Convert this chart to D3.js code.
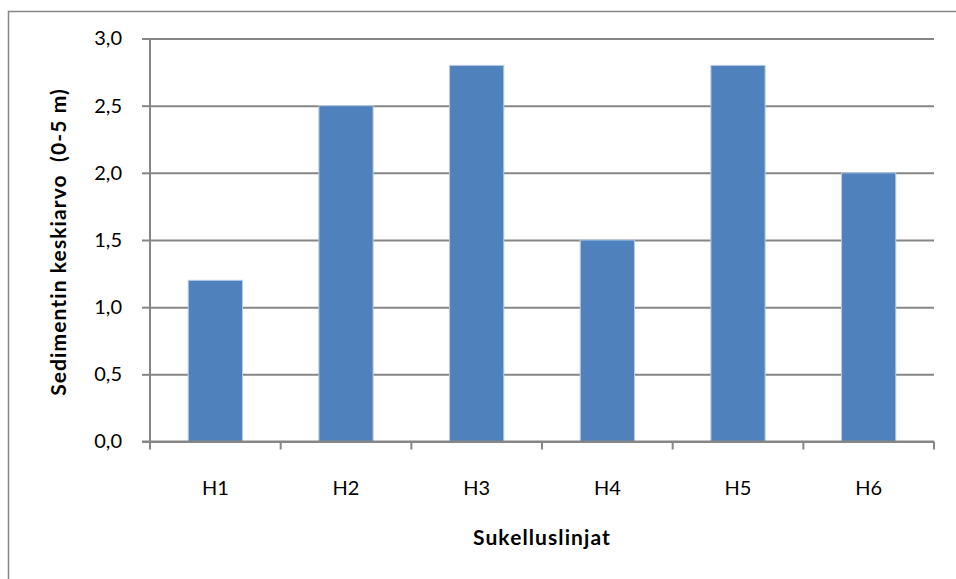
<!DOCTYPE html>
<html>
<head>
<meta charset="utf-8">
<script src="https://cdn.jsdelivr.net/npm/d3@7"></script>
<style>
  body { margin: 0; background: #fff; }
  svg text { font-family: Lato, "Open Sans", sans-serif; fill: #000; }
</style>
</head>
<body>
<div id="chart"></div>
<script>
var categories = ["H1", "H2", "H3", "H4", "H5", "H6"];
var values = [1.2, 2.5, 2.8, 1.5, 2.8, 2.0];
var yTicks = [0, 0.5, 1.0, 1.5, 2.0, 2.5, 3.0];
var xTitle = "Sukelluslinjat";
var yTitle = "Sedimentin keskiarvo  (0-5 m)";

var W = 956, H = 579;
var margin = {top: 38.5, right: 22, bottom: 137.5, left: 150};
var width = W - margin.left - margin.right;
var height = H - margin.top - margin.bottom;
var gridColor = "#868686";

var svg = d3.select("#chart").append("svg")
    .attr("width", W)
    .attr("height", H);

// outer chart frame, runs off the right and bottom edges
svg.append("rect")
    .attr("x", 8.5).attr("y", 11.5)
    .attr("width", W + 10).attr("height", H + 10)
    .attr("fill", "none")
    .attr("stroke", gridColor)
    .attr("stroke-width", 1.5);

var g = svg.append("g").attr("transform", "translate(" + margin.left + "," + margin.top + ")");

var x = d3.scaleBand().domain(categories).range([0, width]).paddingInner(0.585).paddingOuter(0.2925);
var xOuter = d3.scaleBand().domain(categories).range([0, width]);
var y = d3.scaleLinear().domain([0, 3]).range([height, 0]);

// gridlines + y axis
var yAxis = g.append("g")
    .call(d3.axisLeft(y).tickValues(yTicks).tickSizeInner(-width).tickSizeOuter(0)
        .tickFormat(function(d) { return d3.format(".1f")(d).replace(".", ","); }));
yAxis.select(".domain").remove();
yAxis.selectAll(".tick line").attr("stroke", gridColor).attr("stroke-width", 2);
yAxis.selectAll(".tick").append("line")
    .attr("x1", -8).attr("x2", 0)
    .attr("stroke", gridColor).attr("stroke-width", 2);
yAxis.selectAll(".tick text")
    .attr("x", -28)
    .attr("font-size", "20px");

g.append("line")
    .attr("x1", 0).attr("x2", 0).attr("y1", 0).attr("y2", height)
    .attr("stroke", gridColor).attr("stroke-width", 2);

// bars
g.selectAll("rect.bar")
    .data(values)
    .enter().append("rect")
    .attr("class", "bar")
    .attr("x", function(d, i) { return x(categories[i]); })
    .attr("y", function(d) { return y(d); })
    .attr("width", x.bandwidth())
    .attr("height", function(d) { return height - y(d); })
    .attr("fill", "#4F81BD")
    .attr("stroke", "#B9CDE5")
    .attr("stroke-width", 1);

// x axis
var xAxis = g.append("g")
    .attr("transform", "translate(0," + height + ")");
xAxis.append("line")
    .attr("x1", -8).attr("x2", width)
    .attr("stroke", gridColor).attr("stroke-width", 2);
var xTickPos = [0].concat(categories.map(function(c) { return xOuter(c) + xOuter.bandwidth(); }));
xAxis.selectAll("line.xt")
    .data(xTickPos)
    .enter().append("line")
    .attr("class", "xt")
    .attr("x1", function(d) { return d; }).attr("x2", function(d) { return d; })
    .attr("y1", 0).attr("y2", 8)
    .attr("stroke", gridColor).attr("stroke-width", 2);
xAxis.selectAll("text.xl")
    .data(categories)
    .enter().append("text")
    .attr("class", "xl")
    .attr("x", function(c) { return xOuter(c) + xOuter.bandwidth() / 2; })
    .attr("y", 53)
    .attr("text-anchor", "middle")
    .attr("font-size", "20px")
    .text(function(c) { return c; });

// axis titles
svg.append("text")
    .attr("x", 542)
    .attr("y", 545)
    .attr("text-anchor", "middle")
    .attr("font-size", "21px")
    .attr("font-weight", "bold")
    .attr("letter-spacing", "1.1px")
    .text(xTitle);

svg.append("text")
    .attr("transform", "translate(66,242) rotate(-90)")
    .attr("text-anchor", "middle")
    .attr("font-size", "21px")
    .attr("font-weight", "bold")
    .attr("letter-spacing", "1.1px")
    .attr("xml:space", "preserve")
    .style("white-space", "pre")
    .text(yTitle);
</script>
</body>
</html>
